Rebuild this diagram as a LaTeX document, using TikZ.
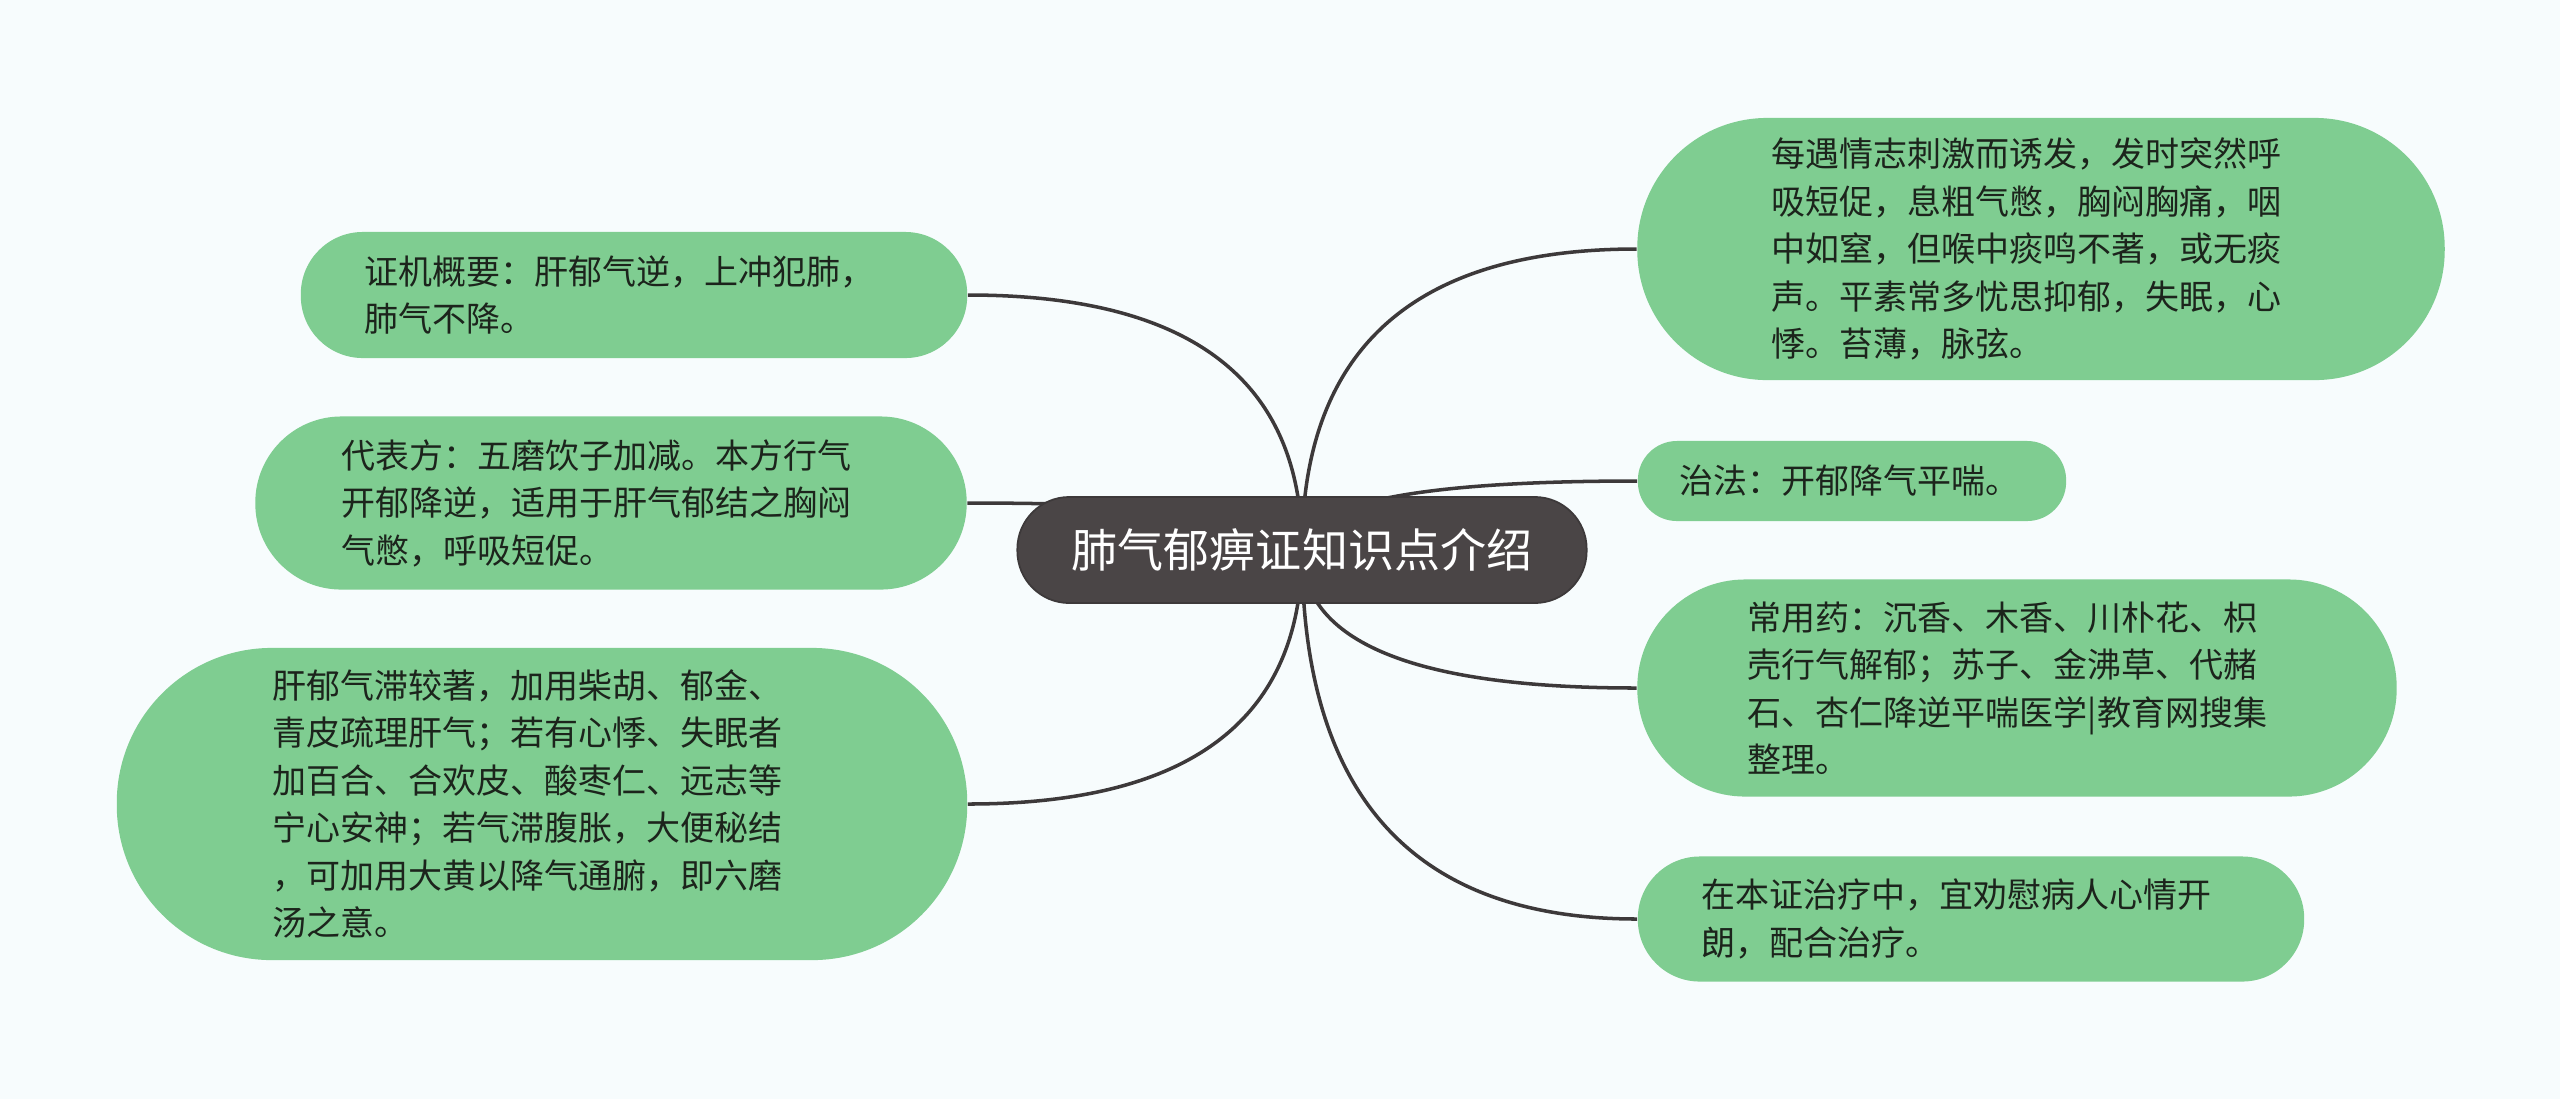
\documentclass[tikz,border=0pt]{standalone}
\usepackage{fontspec}
\setmainfont{Noto Sans CJK SC}
\usetikzlibrary{calc}
\definecolor{leafgreen}{HTML}{7FCD91}
\definecolor{rootgray}{HTML}{4A4546}
\definecolor{linkgray}{HTML}{3D393A}
\definecolor{paper}{HTML}{F7FCFD}
\definecolor{inkdark}{HTML}{1C241C}

\begin{document}
\begin{tikzpicture}[x=0.01cm, y=-0.01cm,
    leaf/.style={fill=leafgreen, text=inkdark, inner sep=0pt, align=left, text width=5.38cm,
      font=\fontsize{9.67pt}{13.5pt}\selectfont},
    root/.style={fill=rootgray, draw=linkgray, line width=0.5pt, text=white, inner sep=0pt,
      minimum width=5.69cm, minimum height=1.06cm, rounded corners=0.52cm,
      font=\fontsize{13.1pt}{16pt}\selectfont},
    link/.style={draw=linkgray, line width=1pt}]
    \fill[paper] (0,0) rectangle (2560,1099);
    \useasboundingbox (0,0) rectangle (2560,1099);
    \coordinate (hub) at (1302,550);
    \node[leaf, minimum width=6.66cm, minimum height=1.26cm, rounded corners=0.62cm] (mech) at (634,295) {证机概要：肝郁气逆，上冲犯肺，\\肺气不降。};
    \node[leaf, minimum width=7.11cm, minimum height=1.73cm, rounded corners=0.86cm] (recipe) at (611,503) {代表方：五磨饮子加减。本方行气\\开郁降逆，适用于肝气郁结之胸闷\\气憋，呼吸短促。};
    \node[leaf, minimum width=8.50cm, minimum height=3.12cm, rounded corners=1.55cm] (modify) at (542,804) {肝郁气滞较著，加用柴胡、郁金、\\青皮疏理肝气；若有心悸、失眠者\\加百合、合欢皮、酸枣仁、远志等\\宁心安神；若气滞腹胀，大便秘结\\，可加用大黄以降气通腑，即六磨\\汤之意。};
    \node[leaf, minimum width=8.07cm, minimum height=2.62cm, rounded corners=1.30cm] (symptom) at (2041,249) {每遇情志刺激而诱发，发时突然呼\\吸短促，息粗气憋，胸闷胸痛，咽\\中如窒，但喉中痰鸣不著，或无痰\\声。平素常多忧思抑郁，失眠，心\\悸。苔薄，脉弦。};
    \node[leaf, text width=3.44cm, minimum width=4.28cm, minimum height=0.80cm, rounded corners=0.39cm] (treat) at (1852,481) {治法：开郁降气平喘。};
    \node[leaf, minimum width=7.59cm, minimum height=2.17cm, rounded corners=1.08cm] (drugs) at (2017,688) {常用药：沉香、木香、川朴花、枳\\壳行气解郁；苏子、金沸草、代赭\\石、杏仁降逆平喘医学|教育网搜集\\整理。};
    \node[leaf, minimum width=6.66cm, minimum height=1.25cm, rounded corners=0.62cm] (advice) at (1971,919) {在本证治疗中，宜劝慰病人心情开\\朗，配合治疗。};
    \foreach \n in {mech,recipe,modify}
        \draw[link] (hub) .. controls ($(hub)!2/3!(hub |- \n.east)$) and ($(\n.east)!2/3!(hub |- \n.east)$) .. (\n.east);
    \foreach \n in {symptom,treat,drugs,advice}
        \draw[link] (hub) .. controls ($(hub)!2/3!(hub |- \n.west)$) and ($(\n.west)!2/3!(hub |- \n.west)$) .. (\n.west);
    \node[root] (title) at (hub) {肺气郁痹证知识点介绍};
\end{tikzpicture}
\end{document}
